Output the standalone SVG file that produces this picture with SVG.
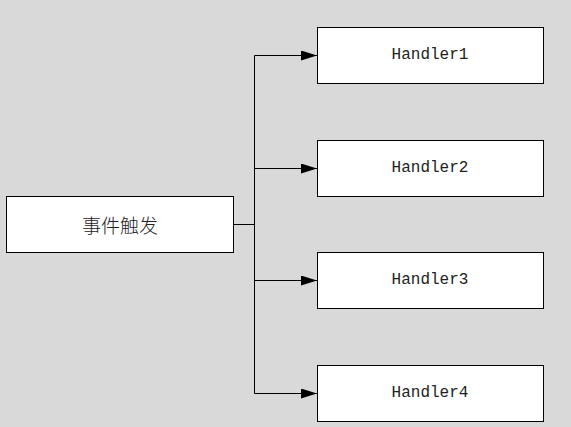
<svg xmlns="http://www.w3.org/2000/svg" width="571" height="427" viewBox="0 0 571 427">
<defs>
<marker id="arr" markerWidth="16" markerHeight="10" refX="16" refY="5" orient="auto" markerUnits="userSpaceOnUse">
<path d="M0,0 L16,5 L0,10 Z" fill="#000"/>
</marker>
</defs>
<style>
.box{fill:#fff;stroke:#000;stroke-width:1}
.t{font-family:"Liberation Mono","Noto Sans CJK SC",monospace;font-size:16px;fill:#222;text-anchor:middle;dominant-baseline:central}
.cjk{font-family:"Noto Sans CJK SC",sans-serif;font-size:19px;font-weight:300}
.c{fill:none;stroke:#000;stroke-width:1}
</style>
<rect width="571" height="427" fill="#d9d9d9"/>
<g id="connectors">
<path class="c" d="M233.5,224.5 H254.5"/>
<path class="c" d="M254.5,55.5 V393.5"/>
<path class="c" d="M254.5,55.5 H317" marker-end="url(#arr)"/>
<path class="c" d="M254.5,168.5 H317" marker-end="url(#arr)"/>
<path class="c" d="M254.5,280.5 H317" marker-end="url(#arr)"/>
<path class="c" d="M254.5,393.5 H317" marker-end="url(#arr)"/>
</g>
<g id="source">
<rect class="box" x="6.5" y="196.5" width="227" height="56"/>
<text class="t cjk" x="120" y="224">事件触发</text>
</g>
<g id="handler1">
<rect class="box" x="317.5" y="27.5" width="226" height="56"/>
<text class="t" x="430" y="55">Handler1</text>
</g>
<g id="handler2">
<rect class="box" x="317.5" y="140.5" width="226" height="56"/>
<text class="t" x="430" y="168">Handler2</text>
</g>
<g id="handler3">
<rect class="box" x="317.5" y="252.5" width="226" height="56"/>
<text class="t" x="430" y="280">Handler3</text>
</g>
<g id="handler4">
<rect class="box" x="317.5" y="365.5" width="226" height="56"/>
<text class="t" x="430" y="393">Handler4</text>
</g>
</svg>
